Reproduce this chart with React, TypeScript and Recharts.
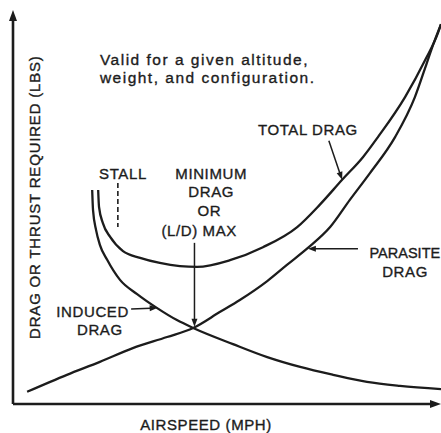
import React from 'react';
import { LineChart, Line, XAxis, YAxis, ReferenceLine, ReferenceDot } from 'recharts';

// Airspeed (relative units 0-100) and drag (relative units 0-100)
const totalSpeed = [19.9, 20.1, 21.0, 22.7, 25.7, 29.7, 34.3, 39.0, 43.0, 50.7, 58.4, 66.4, 71.7, 76.9, 81.8, 85.3, 91.6, 96.3, 99.3, 100];
const totalDrag = [54.3, 50.0, 45.9, 42.4, 38.8, 37.1, 35.8, 35.0, 34.8, 36.5, 39.8, 44.9, 50.6, 56.9, 62.7, 67.8, 77.9, 87.3, 94.2, 96.4];

const parasiteSpeed = [3.3, 12.6, 20.3, 28.0, 36.0, 42.1, 48.4, 53.0, 59.4, 64.0, 68.9, 74.1, 78.7, 83.4, 89.3, 93.9, 96.7, 97.9, 100];
const parasiteDrag = [3.1, 7.4, 10.7, 14.2, 17.0, 19.3, 23.4, 26.4, 31.2, 35.3, 39.6, 44.9, 51.8, 58.6, 67.8, 77.9, 86.6, 90.4, 96.4];

const inducedSpeed = [18.5, 18.7, 19.4, 20.3, 22.0, 25.0, 29.0, 33.6, 38.3, 42.1, 51.4, 59.4, 67.1, 74.8, 82.7, 90.4, 100];
const inducedDrag = [54.3, 49.2, 44.2, 40.4, 36.6, 31.5, 27.9, 24.4, 21.3, 19.3, 15.2, 11.9, 9.4, 7.4, 5.6, 4.6, 3.8];

// Annotation texts
const noteLines = ['Valid for a given altitude,', 'weight, and configuration.'];
const labelTexts = ['TOTAL DRAG', 'STALL', 'MINIMUM', 'DRAG', 'OR', '(L/D) MAX', 'PARASITE', 'DRAG', 'INDUCED', 'DRAG'];
const labelSpeed = [68.9, 25.7, 46.3, 46.3, 45.9, 43.5, 83.3, 91.6, 18.6, 20.3];
const labelDrag = [68.3, 57.1, 57.1, 52.5, 47.7, 42.6, 37.1, 32.2, 22.1, 17.5];
const labelAnchor = ['middle', 'middle', 'middle', 'middle', 'middle', 'middle', 'start', 'middle', 'middle', 'middle'];

// Annotation arrows [fromSpeed, fromDrag, toSpeed, toDrag]
const arrows = [
  [73.8, 66.8, 76.9, 56.9],   // total drag
  [42.4, 40.9, 42.4, 19.6],   // minimum drag
  [80.6, 39.4, 68.9, 39.4],   // parasite
  [27.6, 24.1, 33.8, 24.4],   // induced
];
const stallSpeed = 24.5;
const stallRange = [56.1, 44.9];

const toPts = (xs: number[], ys: number[]) => xs.map((x, i) => ({ x, y: ys[i] }));
const totalData = toPts(totalSpeed, totalDrag);
const parasiteData = toPts(parasiteSpeed, parasiteDrag);
const inducedData = toPts(inducedSpeed, inducedDrag);

const INK = '#1c1c1c';
const FONT = '"Liberation Sans", Arial, sans-serif';

const arrowShape = (head: number, half: number, width: number) => (props: any) => {
  const x1 = Number(props.x1), y1 = Number(props.y1), x2 = Number(props.x2), y2 = Number(props.y2);
  const dx = x2 - x1, dy = y2 - y1;
  const len = Math.hypot(dx, dy) || 1;
  const ux = dx / len, uy = dy / len;
  const bx = x2 - ux * head, by = y2 - uy * head;
  const px = -uy * half, py = ux * half;
  return (
    <g>
      <line x1={x1} y1={y1} x2={bx + ux * 1} y2={by + uy * 1} stroke={INK} strokeWidth={width} />
      <polygon points={`${x2},${y2} ${bx + px},${by + py} ${bx - px},${by - py}`} fill={INK} />
    </g>
  );
};

const textShape = (txt: string, anchor: string, opts: any = {}) => (p: any) => (
  <text
    x={p.cx}
    y={p.cy}
    textAnchor={anchor as any}
    fontFamily={FONT}
    fontSize={opts.size ?? 15}
    letterSpacing={opts.ls ?? 0.6}
    fill={INK}
    stroke={INK}
    strokeWidth={0.35}
    transform={opts.rotate ? `rotate(${opts.rotate} ${p.cx} ${p.cy})` : undefined}
  >
    {txt}
  </text>
);

export default function App() {
  return (
    <div style={{ position: 'absolute', left: 0, top: 0, background: '#fff' }}>
      <LineChart width={441} height={433} margin={{ top: 10, right: 0, bottom: 29, left: 13 }}>
        <XAxis dataKey="x" type="number" domain={[0, 100]} hide allowDataOverflow />
        <YAxis type="number" domain={[0, 100]} hide allowDataOverflow />

        <Line data={totalData} dataKey="y" type="monotone" dot={false} stroke={INK} strokeWidth={2.3} isAnimationActive={false} />
        <Line data={parasiteData} dataKey="y" type="monotone" dot={false} stroke={INK} strokeWidth={2.3} isAnimationActive={false} />
        <Line data={inducedData} dataKey="y" type="monotone" dot={false} stroke={INK} strokeWidth={2.3} isAnimationActive={false} />

        {/* axes with arrowheads */}
        <ReferenceLine segment={[{ x: 0, y: 0 }, { x: 0, y: 100 }]} ifOverflow="visible" shape={arrowShape(11, 4, 2.6)} />
        <ReferenceLine segment={[{ x: 0, y: 0 }, { x: 100, y: 0 }]} ifOverflow="visible" shape={arrowShape(11, 4, 2.6)} />

        {/* stall marker */}
        <ReferenceLine
          segment={[{ x: stallSpeed, y: stallRange[0] }, { x: stallSpeed, y: stallRange[1] }]}
          ifOverflow="visible"
          stroke={INK}
          strokeWidth={1.6}
          strokeDasharray="5 3"
        />

        {arrows.map((a, i) => (
          <ReferenceLine
            key={'arr' + i}
            segment={[{ x: a[0], y: a[1] }, { x: a[2], y: a[3] }]}
            ifOverflow="visible"
            shape={arrowShape(8, 3, 1.5)}
          />
        ))}

        {noteLines.map((t, i) => (
          <ReferenceDot key={'note' + i} x={20.3} y={i === 0 ? 86.0 : 81.5} r={0} ifOverflow="visible"
            shape={textShape(t, 'start', { size: 15.5, ls: 1.5 })} />
        ))}

        {labelTexts.map((t, i) => (
          <ReferenceDot key={'lab' + i} x={labelSpeed[i]} y={labelDrag[i]} r={0} ifOverflow="visible"
            shape={textShape(t, labelAnchor[i], t === 'PARASITE' ? { size: 14.5, ls: 0 } : {})} />
        ))}

        <ReferenceDot x={45.1} y={-6.6} r={0} ifOverflow="visible"
          shape={textShape('AIRSPEED  (MPH)', 'middle', { size: 15 })} />
        <ReferenceDot x={6.3} y={52.5} r={0} ifOverflow="visible"
          shape={textShape('DRAG OR THRUST REQUIRED (LBS)', 'middle', { size: 15, rotate: -90, ls: 0.8 })} />
      </LineChart>
    </div>
  );
}
